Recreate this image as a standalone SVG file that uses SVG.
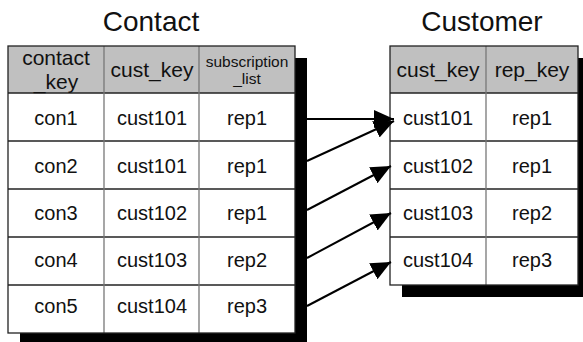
<svg xmlns="http://www.w3.org/2000/svg" width="583" height="342" viewBox="0 0 583 342">
<style>
text{font-family:"Liberation Sans",Arial,sans-serif;fill:#111;text-anchor:middle}
.t{font-size:28px}
.c{font-size:20px}
.h{font-size:21px}
.s{font-size:15.5px}
.hdr{fill:#c0c0c0}
.cell{fill:#fff}
.sh{fill:#000}
.hl{stroke:#222;stroke-width:1.3}
.vl{stroke:#777;stroke-width:1.3}
.ob{fill:none;stroke:#222;stroke-width:1.3}
.ar{stroke:#000;stroke-width:2;fill:none;marker-end:url(#ah)}
</style>
<defs>
<marker id="ah" markerUnits="userSpaceOnUse" markerWidth="22" markerHeight="20" refX="20" refY="9" orient="auto">
<path d="M0,0 L20,9 L0,18 z" fill="#000"/>
</marker>
</defs>
<rect width="583" height="342" fill="#fff"/>
<g id="contact">
<text class="t" x="151" y="31">Contact</text>
<rect class="sh" x="20" y="58" width="287" height="300"/>
<rect class="cell" x="8" y="46" width="287" height="287"/>
<rect class="hdr" x="8" y="46" width="287" height="47"/>
<line class="hl" x1="8" y1="93" x2="295" y2="93"/>
<line class="hl" x1="8" y1="141" x2="295" y2="141"/>
<line class="hl" x1="8" y1="189" x2="295" y2="189"/>
<line class="hl" x1="8" y1="237" x2="295" y2="237"/>
<line class="hl" x1="8" y1="285" x2="295" y2="285"/>
<line class="vl" x1="104" y1="46" x2="104" y2="333"/>
<line class="vl" x1="199" y1="46" x2="199" y2="333"/>
<rect class="ob" x="8" y="46" width="287" height="287"/>
<text class="h" x="56" y="65">contact</text>
<text class="h" x="56" y="89">_key</text>
<text class="h" x="152" y="77">cust_key</text>
<text class="s" x="247" y="67">subscription</text>
<text class="s" x="247" y="84">_list</text>
<text class="c" x="56" y="125">con1</text><text class="c" x="152" y="125">cust101</text><text class="c" x="247" y="125">rep1</text>
<text class="c" x="56" y="173">con2</text><text class="c" x="152" y="173">cust101</text><text class="c" x="247" y="173">rep1</text>
<text class="c" x="56" y="220">con3</text><text class="c" x="152" y="220">cust102</text><text class="c" x="247" y="220">rep1</text>
<text class="c" x="56" y="267">con4</text><text class="c" x="152" y="267">cust103</text><text class="c" x="247" y="267">rep2</text>
<text class="c" x="56" y="313">con5</text><text class="c" x="152" y="313">cust104</text><text class="c" x="247" y="313">rep3</text>
</g>
<g id="customer">
<text class="t" x="482" y="31">Customer</text>
<rect class="sh" x="402" y="58" width="188" height="239"/>
<rect class="cell" x="390" y="46" width="188" height="239"/>
<rect class="hdr" x="390" y="46" width="188" height="47"/>
<line class="hl" x1="390" y1="93" x2="578" y2="93"/>
<line class="hl" x1="390" y1="141" x2="578" y2="141"/>
<line class="hl" x1="390" y1="189" x2="578" y2="189"/>
<line class="hl" x1="390" y1="237" x2="578" y2="237"/>
<line class="vl" x1="486" y1="46" x2="486" y2="285"/>
<rect class="ob" x="390" y="46" width="188" height="239"/>
<text class="h" x="438" y="77">cust_key</text>
<text class="h" x="532" y="77">rep_key</text>
<text class="c" x="438" y="125">cust101</text><text class="c" x="532" y="125">rep1</text>
<text class="c" x="438" y="173">cust102</text><text class="c" x="532" y="173">rep1</text>
<text class="c" x="438" y="220">cust103</text><text class="c" x="532" y="220">rep2</text>
<text class="c" x="438" y="267">cust104</text><text class="c" x="532" y="267">rep3</text>
</g>
<g id="connectors">
<line class="ar" x1="307" y1="119" x2="394" y2="119"/>
<line class="ar" x1="307" y1="161" x2="394" y2="121"/>
<line class="ar" x1="307" y1="210" x2="391" y2="166"/>
<line class="ar" x1="307" y1="258" x2="391" y2="213"/>
<line class="ar" x1="307" y1="306" x2="391" y2="262"/>
</g>
</svg>
